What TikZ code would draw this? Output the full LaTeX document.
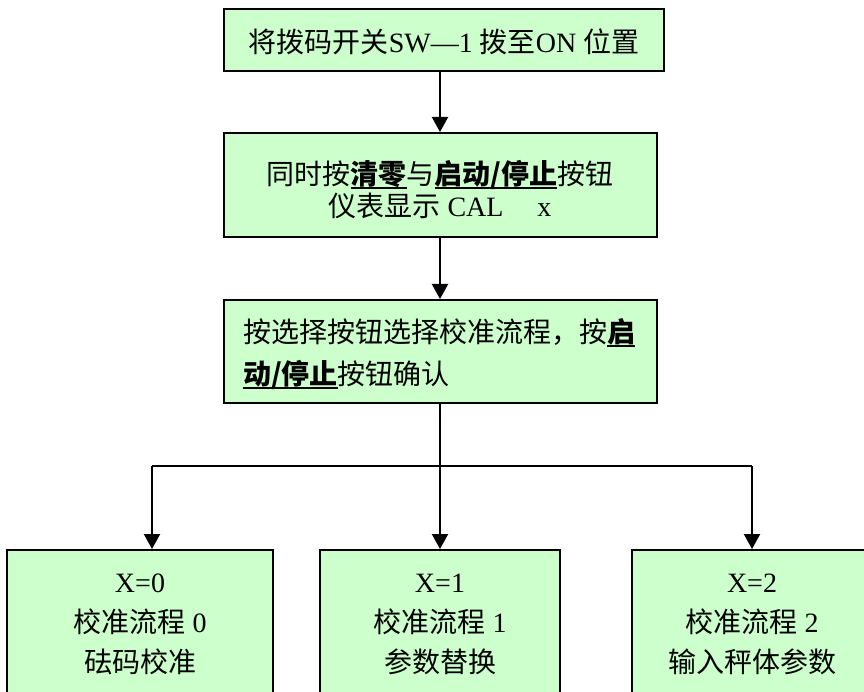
\documentclass[tikz,border=0pt]{standalone}
\usepackage{fontspec}
\setmainfont{Liberation Serif}
\newfontfamily\cjk{Noto Sans CJK SC}
\usetikzlibrary{arrows.meta}
\definecolor{boxgreen}{HTML}{CCFFCC}
\newcommand\zh[1]{{\cjk #1}}
\newcommand\zhb[1]{\leavevmode{\setbox0\hbox{\cjk\bfseries #1}\rlap{\rule[-4pt]{\wd0}{1.6pt}}\box0}}
\newcommand\ts[1]{\rule{0pt}{#1pt}}
\newcommand\bs[1]{\rule[-#1pt]{0pt}{#1pt}}
\begin{document}
\begin{tikzpicture}[x=1pt,y=-1pt,
  flowbox/.style={draw=black, line width=2pt, fill=boxgreen, inner sep=0pt},
  arr/.style={line width=2.2pt, -{Triangle[width=16pt,length=15pt]}},
  branch/.style={line width=1.2pt}]
\useasboundingbox (0,0) rectangle (864,692);
\clip (0,0) rectangle (864,692);
\fill[white] (0,0) rectangle (864,692);

\node[flowbox, minimum width=440pt, minimum height=62pt,
      font=\fontsize{28}{32}\selectfont] (b1) at (444,40)
  {\ts{30}\zh{将拨码开关}SW—1 \zh{拨至}ON \zh{位置}\bs{4}};

\node[flowbox, minimum width=433pt, minimum height=104pt, align=center,
      font=\fontsize{28}{32}\selectfont] (b2) at (440,185)
  {\ts{36}\zh{同时按}\zhb{清零}\zh{与}\zhb{启动/停止}\zh{按钮}\\
   \zh{仪表显示} CAL\hspace{34pt}x\bs{4}};

\node[flowbox, minimum width=433pt, minimum height=103pt, text width=394pt, align=left,
      font=\fontsize{28}{42}\selectfont] (b3) at (440,351.5)
  {\ts{30}\zh{按选择按钮选择校准流程，按}\zhb{启}\\
   \ts{20}\zhb{动/停止}\zh{按钮确认}\bs{5}};

\node[flowbox, minimum width=266pt, minimum height=164pt, align=center,
      font=\fontsize{28}{40}\selectfont] (bA) at (140,632)
  {\ts{30}X=0\\ \zh{校准流程} 0\\ \zh{砝码校准}\bs{30}};
\node[flowbox, minimum width=240pt, minimum height=164pt, align=center,
      font=\fontsize{28}{40}\selectfont] (bB) at (440,632)
  {\ts{30}X=1\\ \zh{校准流程} 1\\ \zh{参数替换}\bs{30}};
\node[flowbox, minimum width=240pt, minimum height=164pt, align=center,
      font=\fontsize{28}{40}\selectfont] (bC) at (752,632)
  {\ts{30}X=2\\ \zh{校准流程} 2\\ \zh{输入秤体参数}\bs{30}};

\coordinate (jL) at (152,466);
\coordinate (jR) at (752,466);

\draw[arr] (b1.south -| b2.north) -- (b2.north);
\draw[arr] (b2.south) -- (b3.north);
\draw[arr] (b3.south) -- (bB.north);
\draw[branch] (jL) -- (jR);
\draw[arr] (jL) -- (jL |- bA.north);
\draw[arr] (jR) -- (bC.north);
\end{tikzpicture}
\end{document}
